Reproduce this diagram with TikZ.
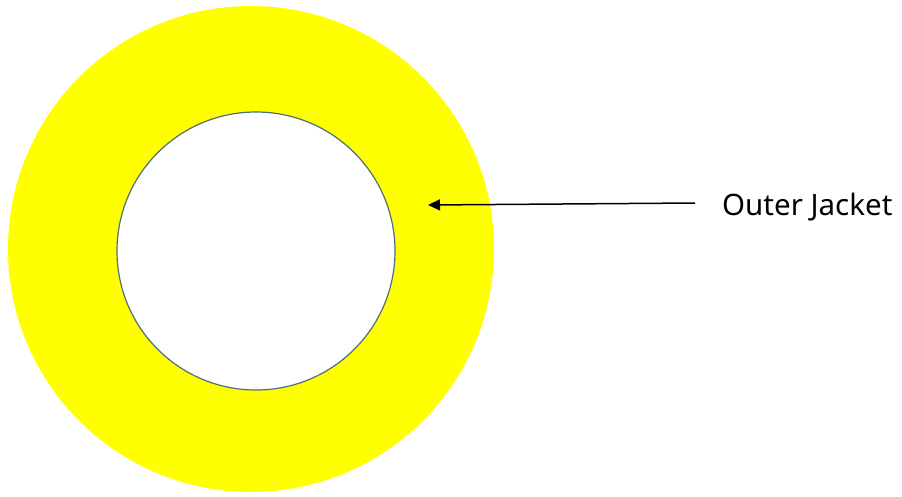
\documentclass[tikz,border=0pt]{standalone}
\usepackage{fontspec}
\setmainfont{Noto Sans}
\usetikzlibrary{arrows.meta}
\definecolor{jacket}{RGB}{255,255,0}
\definecolor{rim}{RGB}{80,110,120}
\tikzset{
  jacketfill/.style={fill=jacket, draw=none},
  corebox/.style={fill=white, draw=rim, line width=1.2pt},
  pointer/.style={draw=black, line width=1.5pt, -{Triangle[length=12pt,width=11pt]}},
  label/.style={font=\fontsize{29.5}{35}\selectfont, inner sep=0pt, anchor=base west}
}
\begin{document}
\begin{tikzpicture}[x=1pt,y=-1pt]
\useasboundingbox (0,0) rectangle (902,496);
\fill[white] (0,0) rectangle (902,496);
\node[jacketfill, circle, minimum size=486pt, inner sep=0pt] (outer) at (251,249) {};
\node[corebox, circle, minimum size=278pt, inner sep=0pt] (inner) at (256,251) {};
\node[label] (lbl) at (722,215) {Outer Jacket};
\coordinate (tail) at (695,203);
\coordinate (tip) at (428,205);
\draw[pointer] (tail) -- (tip);
\end{tikzpicture}
\end{document}
